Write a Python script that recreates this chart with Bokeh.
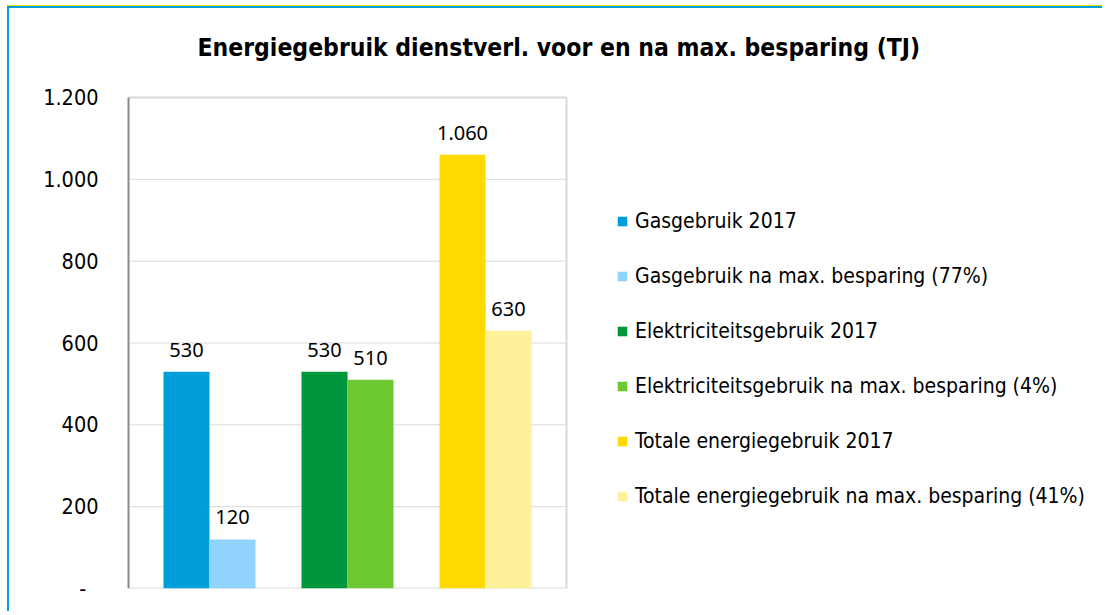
from bokeh.plotting import figure
from bokeh.models import Range1d, Legend, LegendItem, CustomJSTickFormatter, ColumnDataSource, Label
from bokeh.core.properties import value
from bokeh.embed import file_html
from bokeh.resources import INLINE

title = "Energiegebruik dienstverl. voor en na max. besparing (TJ)"
groups = ["Gas", "Elektriciteit", "Totaal"]
series_labels = [
    "Gasgebruik 2017",
    "Gasgebruik na max. besparing (77%)",
    "Elektriciteitsgebruik 2017",
    "Elektriciteitsgebruik na max. besparing (4%)",
    "Totale energiegebruik 2017",
    "Totale energiegebruik na max. besparing (41%)",
]
series_values = [530, 120, 530, 510, 1060, 630]
series_group = [0, 0, 1, 1, 2, 2]
series_slot = [0, 1, 0, 1, 0, 1]
colors = ["#009fda", "#90d3fe", "#00963c", "#6ec830", "#ffd900", "#fff09a"]
y_ticks = [0, 200, 400, 600, 800, 1000, 1200]

def fmt(v):
    return f"{v:,}".replace(",", ".")

# layout (pixels)
W, H = 1095, 605
MBL, MBR, MBT, MBB = 117, 5, 0, 25
LEFT_GAP = 2              # pixels between frame left and plot box left
BOX_TOP = 89              # canvas y of the top of the plot box
PX = 46.0                 # pixels per x unit (one bar width)
pad = 81 / PX             # space between plot box edge and group centre
x_box_start = -pad
x_start = x_box_start - LEFT_GAP / PX
x_box_end = 3 * (len(groups) - 1) + pad
x_end = x_start + (W - MBL - MBR) / PX
frame_h = H - MBT - MBB
box_h = frame_h - (BOX_TOP - MBT)
y_lo, y_hi = y_ticks[0], y_ticks[-1]
y_end = y_lo + (y_hi - y_lo) * frame_h / box_h

p = figure(width=W, height=H, output_backend="svg", toolbar_location=None,
           x_range=Range1d(x_start, x_end), y_range=Range1d(y_lo, y_end),
           min_border_left=MBL, min_border_right=MBR, min_border_top=MBT, min_border_bottom=MBB)
p.styles = {"margin-left": "7px", "margin-top": "6px",
            "border-top": "2px solid #00a0e0", "border-left": "2px solid #00a0e0",
            "box-shadow": "0 -1px 0 #d8e000"}
p.background_fill_color = "white"
p.border_fill_color = "white"
p.outline_line_color = None
p.xaxis.visible = False
p.xgrid.visible = False
p.ygrid.visible = False

# plot-area box and gridlines, limited to the bar area
grid_src = ColumnDataSource(dict(y=y_ticks[1:-1]))
p.segment(x0=x_box_start, x1=x_box_end, y0="y", y1="y", source=grid_src,
          line_color="#d9d9d9", line_width=1)
p.segment(x0=[x_box_start, x_box_start, x_box_end], x1=[x_box_end, x_box_end, x_box_end],
          y0=[y_hi, y_lo, y_lo], y1=[y_hi, y_lo, y_hi],
          line_color="#d9d9d9", line_width=2)
p.segment(x0=[x_box_start], x1=[x_box_start], y0=[y_lo], y1=[y_hi],
          line_color="#898989", line_width=2)

p.yaxis.ticker = y_ticks
p.yaxis.formatter = CustomJSTickFormatter(code="""
if (tick == 0) return "-\\u00a0\\u00a0";
return tick.toString().replace(/\\B(?=(\\d{3})+(?!\\d))/g, ".");
""")
p.yaxis.axis_line_color = None
p.yaxis.major_tick_line_color = None
p.yaxis.minor_tick_line_color = None
p.yaxis.major_tick_out = 0
p.yaxis.major_tick_in = 0
p.yaxis.major_label_standoff = 26 + LEFT_GAP
p.yaxis.major_label_text_font = "DejaVu Sans Condensed"
p.yaxis.major_label_text_font_size = "21.5px"
p.yaxis.major_label_text_color = "#000000"

items = []
for lab, v, g, s, c in zip(series_labels, series_values, series_group, series_slot, colors):
    x = 3 * g + (s - 0.5)
    src = ColumnDataSource(dict(x=[x], top=[v], txt=[fmt(v)]))
    r = p.vbar(x="x", top="top", bottom=0, width=1, source=src, fill_color=c, line_color=None)
    p.text(x="x", y="top", text="txt", source=src, text_align="center", text_baseline="middle",
           y_offset=-22, text_font=value("Noto Sans"), text_font_size="20px", text_color="#000000")
    items.append(LegendItem(label=lab, renderers=[r]))

legend = Legend(items=items, location=(488 + LEFT_GAP, 79), orientation="vertical")
legend.border_line_color = None
legend.background_fill_alpha = 0
legend.padding = 0
legend.margin = 0
legend.glyph_width = 12
legend.glyph_height = 12
legend.label_height = 26
legend.spacing = 29
legend.label_standoff = 7
legend.label_text_font = "DejaVu Sans Condensed"
legend.label_text_font_size = "21px"
legend.label_text_color = "#000000"
p.add_layout(legend, "center")

p.add_layout(Label(x=69 + LEFT_GAP, y=frame_h - 39, x_units="screen", y_units="screen", text=title,
                   text_align="left", text_baseline="middle", text_font="DejaVu Sans Condensed",
                   text_font_style="bold", text_font_size="24.5px", text_color="#000000"))

open("out.html", "w").write(file_html(p, INLINE))
